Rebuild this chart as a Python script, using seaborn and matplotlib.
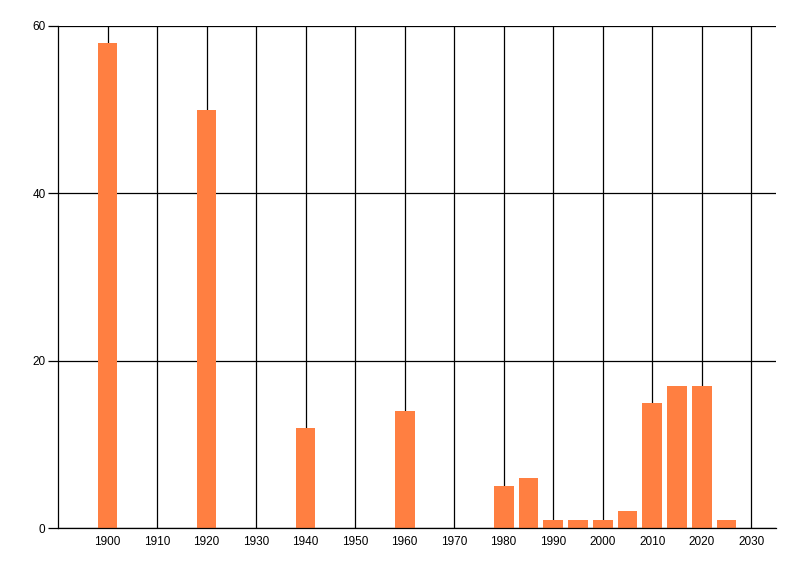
import matplotlib
matplotlib.use("Agg")
import matplotlib.pyplot as plt
import seaborn as sns

# Data
years = [1900, 1920, 1940, 1960, 1980, 1985, 1990, 1995, 2000, 2005, 2010, 2015, 2020, 2025]
counts = [58, 50, 12, 14, 5, 6, 1, 1, 1, 2, 15, 17, 17, 1]
x_ticks = list(range(1900, 2031, 10))
y_ticks = [0, 20, 40, 60]

sns.set_style("white")
plt.rcParams["font.family"] = ["Liberation Sans", "DejaVu Sans"]

fig = plt.figure(figsize=(8, 5.76), dpi=100)
ax = fig.add_axes([0.0725, 0.0833, 0.8975, 0.8716])

sns.barplot(x=years, y=counts, native_scale=True, width=0.8,
            color="#FF7F41", saturation=1, linewidth=0, ax=ax)

ax.set_xlim(1890, 2035)
ax.set_ylim(0, 60)
ax.set_xticks(x_ticks)
ax.set_xticklabels([str(t) for t in x_ticks])
ax.set_yticks(y_ticks)
ax.set_axisbelow(True)
ax.grid(True, color="black", linewidth=0.9)

for side in ["top", "right"]:
    ax.spines[side].set_visible(False)
for side in ["left", "bottom"]:
    ax.spines[side].set_color("black")
    ax.spines[side].set_linewidth(0.9)

ax.tick_params(axis="x", length=0, pad=6, labelsize=8.5, colors="black")
ax.tick_params(axis="y", length=7, width=0.9, pad=2, labelsize=8.5, colors="black", left=True)
ax.set_xlabel("")
ax.set_ylabel("")

fig.savefig("out.png", dpi=100)
